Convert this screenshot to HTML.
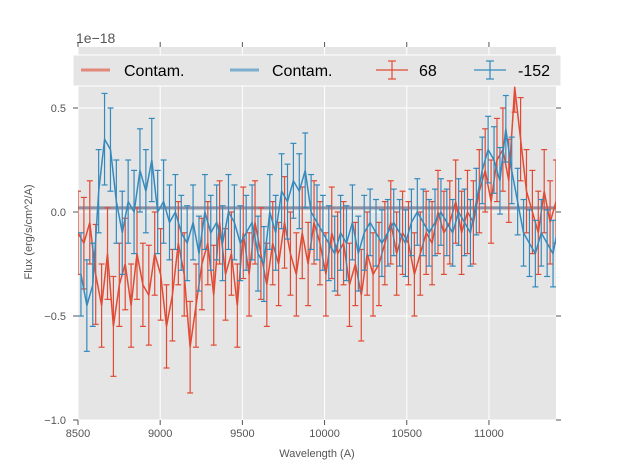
<!DOCTYPE html>
<html><head><meta charset="utf-8"><style>
body{margin:0;background:#fff;}
svg{display:block;font-family:"Liberation Sans",sans-serif;}
</style></head><body>
<svg id="chart" width="617" height="467">
<rect x="78" y="47" width="478" height="373" fill="#e5e5e5"/>
<g id="grid"></g>
<defs><clipPath id="clip"><rect x="78" y="47" width="478" height="373"/></clipPath></defs>
<g id="contam" clip-path="url(#clip)"></g>
<g id="series" clip-path="url(#clip)"></g>
<g id="ticks"></g>
<text x="76" y="43" font-size="14" fill="#555">1e−18</text>
<text x="317" y="457" font-size="11" fill="#555" text-anchor="middle">Wavelength (A)</text>
<text transform="translate(32,232) rotate(-90)" font-size="11" fill="#555" text-anchor="middle">Flux (erg/s/cm^2/A)</text>
<g>
<rect x="73" y="55" width="488" height="31" fill="#e5e5e5" stroke="#fff" stroke-width="1"/>
<g><line x1="81" y1="70" x2="110" y2="70" stroke="#e24a33" stroke-opacity="0.6" stroke-width="3"/><text x="124" y="76" font-size="16" fill="#000">Contam.</text></g>
<g><line x1="230" y1="70" x2="259" y2="70" stroke="#348abd" stroke-opacity="0.6" stroke-width="3"/><text x="272" y="76" font-size="16" fill="#000">Contam.</text></g>
<g stroke="#e24a33" stroke-width="1.2"><line x1="376" y1="70" x2="408" y2="70"/><line x1="392" y1="61" x2="392" y2="79"/><line x1="388" y1="61" x2="396" y2="61"/><line x1="388" y1="79" x2="396" y2="79"/><text x="419" y="76" font-size="16" fill="#000" stroke="none">68</text></g>
<g stroke="#348abd" stroke-width="1.2"><line x1="474" y1="70" x2="506" y2="70"/><line x1="490" y1="61" x2="490" y2="79"/><line x1="486" y1="61" x2="494" y2="61"/><line x1="486" y1="79" x2="494" y2="79"/><text x="518" y="76" font-size="16" fill="#000" stroke="none">-152</text></g>
</g>
</svg>
<script>
const xTicks=[8500,9000,9500,10000,10500,11000];
const yTicks=[-1.0,-0.5,0.0,0.5];
const yTickLabels=["−1.0","−0.5","0.0","0.5"];
const contamValues=[0.02,0.02];
const redFlux=[-0.1,-0.15,-0.05,-0.3,-0.45,-0.2,-0.55,-0.35,-0.25,-0.45,-0.2,-0.35,-0.4,-0.2,-0.3,-0.55,-0.4,-0.15,-0.3,-0.65,-0.45,-0.25,-0.15,-0.4,-0.05,-0.3,-0.2,-0.45,-0.1,-0.3,-0.05,-0.2,-0.35,-0.15,-0.25,-0.05,-0.2,-0.3,-0.1,-0.25,-0.05,-0.15,-0.3,-0.1,-0.2,-0.15,-0.35,-0.25,-0.4,-0.2,-0.3,-0.25,-0.15,-0.05,-0.2,-0.1,-0.15,-0.3,-0.2,-0.1,-0.15,0.0,-0.1,-0.05,0.05,-0.1,0.0,-0.05,0.1,0.2,0.05,0.25,0.3,0.15,0.6,0.35,0.1,0.0,-0.1,0.1,-0.05,0.05];
const redErr=[0.2,0.22,0.2,0.24,0.2,0.22,0.24,0.2,0.22,0.2,0.22,0.2,0.24,0.2,0.22,0.2,0.22,0.2,0.2,0.22,0.2,0.22,0.2,0.24,0.2,0.22,0.2,0.2,0.22,0.2,0.2,0.22,0.2,0.2,0.2,0.22,0.2,0.2,0.22,0.2,0.2,0.2,0.2,0.22,0.2,0.2,0.2,0.2,0.22,0.2,0.2,0.2,0.2,0.2,0.2,0.2,0.2,0.2,0.2,0.2,0.2,0.2,0.2,0.2,0.2,0.2,0.2,0.2,0.2,0.2,0.2,0.2,0.2,0.2,0.12,0.2,0.2,0.2,0.2,0.2,0.2,0.2];
const blueFlux=[-0.3,-0.45,-0.35,0.1,0.35,0.3,0.05,-0.1,0.05,0.0,0.2,0.1,0.25,0.0,0.05,-0.05,0.0,-0.1,-0.15,-0.05,-0.2,0.0,-0.1,-0.05,-0.15,0.0,-0.05,-0.15,-0.1,-0.05,-0.2,-0.25,0.0,-0.1,0.1,0.05,0.15,0.1,0.2,0.0,-0.05,-0.1,-0.15,-0.2,-0.1,-0.15,-0.05,-0.2,-0.1,-0.05,-0.1,-0.15,-0.1,-0.05,-0.1,-0.15,-0.05,0.0,-0.05,-0.1,-0.05,0.0,-0.05,-0.1,0.0,-0.05,-0.1,0.05,0.2,0.3,0.25,0.15,0.4,0.2,0.05,-0.1,-0.15,-0.2,-0.1,-0.15,-0.2,-0.05];
const blueErr=[0.2,0.22,0.2,0.2,0.22,0.2,0.2,0.2,0.2,0.2,0.2,0.2,0.2,0.2,0.2,0.18,0.18,0.18,0.18,0.18,0.18,0.18,0.18,0.18,0.18,0.18,0.18,0.18,0.18,0.18,0.18,0.18,0.18,0.18,0.18,0.18,0.18,0.18,0.18,0.18,0.18,0.18,0.18,0.18,0.18,0.18,0.18,0.18,0.18,0.16,0.16,0.16,0.16,0.16,0.16,0.16,0.16,0.16,0.16,0.16,0.16,0.16,0.16,0.16,0.16,0.16,0.16,0.16,0.16,0.16,0.16,0.16,0.16,0.16,0.16,0.16,0.16,0.16,0.16,0.16,0.16,0.16];
const xMin=8500,xMax=11408,yZero=212,yPerUnit=208;
const X=v=>78+(v-xMin)*(478/(xMax-xMin));
const Y=v=>yZero-v*yPerUnit;
const NS="http://www.w3.org/2000/svg";
function mk(tag,attrs,parent){const e=document.createElementNS(NS,tag);for(const k in attrs)e.setAttribute(k,attrs[k]);parent.appendChild(e);return e;}
const grid=document.getElementById('grid'),ticks=document.getElementById('ticks');
xTicks.forEach(t=>{
 const l=mk('line',{x1:X(t),x2:X(t),y1:47,y2:420,stroke:'#fff','stroke-width':1},grid);
 
 
 mk('line',{x1:X(t),x2:X(t),y1:420,y2:425,stroke:'#555'},ticks);
 mk('line',{x1:X(t),x2:X(t),y1:42,y2:47,stroke:'#555'},ticks);
 const tx=mk('text',{x:X(t),y:437,'font-size':11,fill:'#555','text-anchor':'middle'},ticks);
 tx.textContent=t;
 
 
});
yTicks.forEach((t,i)=>{
 const l=mk('line',{x1:78,x2:556,y1:Y(t),y2:Y(t),stroke:'#fff','stroke-width':1},grid);
 
 
 mk('line',{x1:73,x2:78,y1:Y(t),y2:Y(t),stroke:'#555'},ticks);
 mk('line',{x1:556,x2:561,y1:Y(t),y2:Y(t),stroke:'#555'},ticks);
 const tx=mk('text',{x:66,y:Y(t)+4,'font-size':11,fill:'#555','text-anchor':'end'},ticks);
 tx.textContent=yTickLabels[i];
 
 
});
const contam=document.getElementById('contam');
[['#e24a33',0],['#348abd',1]].forEach(([c,i])=>{
 const l=mk('line',{x1:78,x2:556,y1:Y(contamValues[i]),y2:Y(contamValues[i]),stroke:c,'stroke-opacity':0.5,'stroke-width':3},contam);
 
 
});
const series=document.getElementById('series');
function draw(flux,err,color,offset,name){
 const g=mk('g',{},series);
 
 
 const n=flux.length,step=(xMax-xMin)/(n-1);
 let d='';
 flux.forEach((v,i)=>{
  const wx=xMin+offset*step+i*step;const px=X(wx);
  d+=(i?'L':'M')+px.toFixed(1)+','+Y(v).toFixed(1);
  const e=err[i]||0.2;
  mk('line',{x1:px,x2:px,y1:Y(v+e),y2:Y(v-e),stroke:color,'stroke-width':1.2},g);
  mk('line',{x1:px-3,x2:px+3,y1:Y(v+e),y2:Y(v+e),stroke:color,'stroke-width':1.2},g);
  mk('line',{x1:px-3,x2:px+3,y1:Y(v-e),y2:Y(v-e),stroke:color,'stroke-width':1.2},g);
 });
 mk('path',{d:d,fill:'none',stroke:color,'stroke-width':1.5},g);
}
draw(redFlux,redErr,'#e24a33',0,'series-68');
draw(blueFlux,blueErr,'#348abd',0.5,'series-minus152');
</script>
</body></html>
